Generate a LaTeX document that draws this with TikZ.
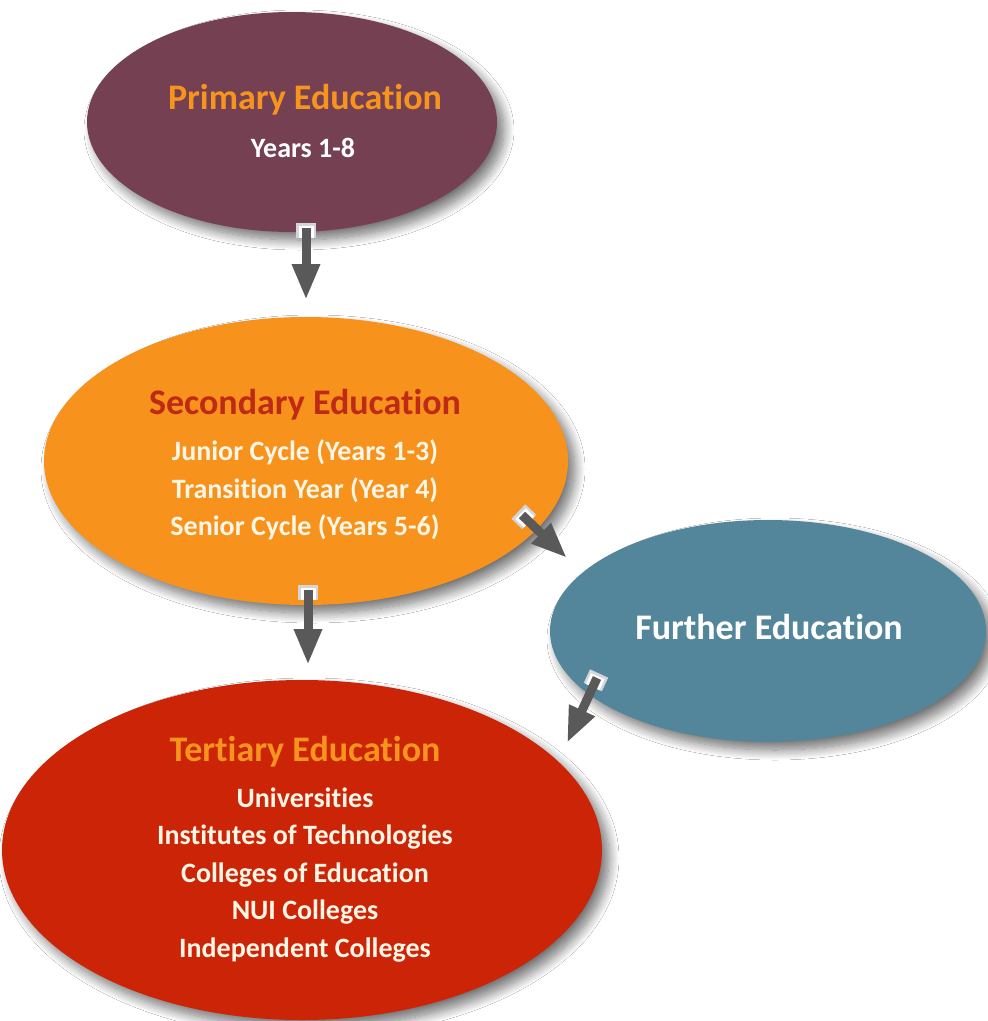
\documentclass[tikz,border=0pt]{standalone}
\usepackage{fontspec}
\setmainfont{Carlito}[RawFeature={-liga}]
\usetikzlibrary{shapes.geometric,arrows.meta,shadows.blur,calc}
\definecolor{primfill}{HTML}{754052}
\definecolor{secfill}{HTML}{F7921C}
\definecolor{furfill}{HTML}{54869B}
\definecolor{terfill}{HTML}{CC2406}
\definecolor{orangeT}{HTML}{F7941D}
\definecolor{redT}{HTML}{BF2A16}
\definecolor{cream}{HTML}{FFF6E6}
\definecolor{arrowgray}{HTML}{595959}
\definecolor{boxgray}{HTML}{D3D5DA}
\begin{document}
\begin{tikzpicture}[x=1pt,y=-1pt,
  blob/.style={ellipse, inner sep=0pt,
    blur shadow={shadow xshift=7pt, shadow yshift=-8pt, shadow blur radius=10pt, shadow blur steps=14, shadow opacity=55}},
  ttl/.style={font=\bfseries\fontsize{36}{40}\selectfont, inner sep=0pt},
  body/.style={font=\bfseries\fontsize{28}{37.5}\selectfont, align=center, inner sep=0pt},
  tailbox/.style={line width=20pt, draw=boxgray},
  tailin/.style={line width=15pt, draw=white},
  flow/.style={line width=9pt, draw=arrowgray, -{Triangle[width=26pt,length=36pt]}}
]
\fill[white] (0,0) rectangle (988,1021);
\useasboundingbox (0,0) rectangle (988,1021);

\node[blob, fill=primfill, minimum width=410pt, minimum height=220pt] (prim) at (292,122) {};
\node[blob, fill=secfill, minimum width=524pt, minimum height=288pt] (sec) at (306,461) {};
\node[blob, fill=furfill, minimum width=436pt, minimum height=222pt] (fur) at (768,631) {};
\node[blob, fill=terfill, minimum width=600pt, minimum height=340pt] (ter) at (302,850) {};

\node[ttl, text=orangeT] (primT) at (305,100) {Primary Education};
\node[body, text=white] (primB) at (303,148) {Years 1-8};

\node[ttl, text=redT] (secT) at (305,405) {Secondary Education};
\node[body, text=cream] (secB) at (305,490) {Junior Cycle (Years 1-3)\\Transition Year (Year 4)\\Senior Cycle (Years 5-6)};

\node[ttl, text=white] (furT) at (769,627) {Further Education};

\node[ttl, text=orangeT] (terT) at (305,752) {Tertiary Education};
\node[body, text=cream] (terB) at (305,875) {Universities\\Institutes of Technologies\\Colleges of Education\\NUI Colleges\\Independent Colleges};

\coordinate (a1s) at (306,228); \coordinate (a1e) at (306,300);
\coordinate (a2s) at (308,590); \coordinate (a2e) at (308,665);
\coordinate (a3s) at (522,515); \coordinate (a3e) at (567,558);
\coordinate (a4s) at (597,678); \coordinate (a4e) at (567,743);

\foreach \s/\e in {a1s/a1e,a2s/a2e,a3s/a3e,a4s/a4e}{
  \draw[tailbox] ($(\s)!-5pt!(\e)$) -- ($(\s)!10pt!(\e)$);
  \draw[tailin] ($(\s)!-2pt!(\e)$) -- ($(\s)!10pt!(\e)$);
  \draw[flow] (\s) -- (\e);
}
\end{tikzpicture}
\end{document}
